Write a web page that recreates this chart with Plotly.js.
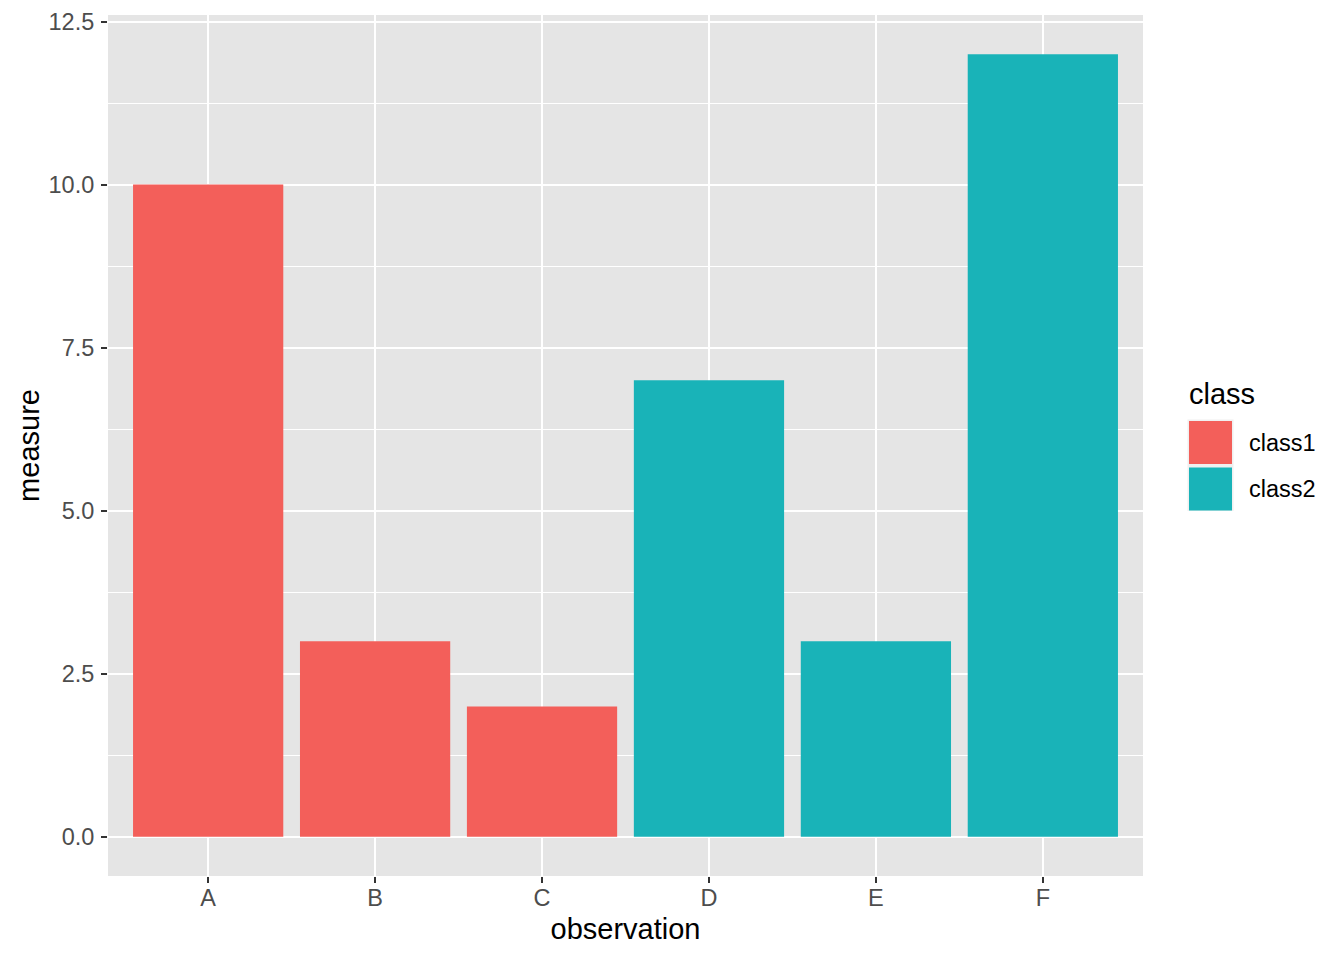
<!DOCTYPE html>
<html>
<head>
<meta charset="utf-8">
<script src="https://cdn.plot.ly/plotly-3.0.1.min.js"></script>
<style>html,body{margin:0;padding:0;background:#fff;}#chart{width:1344px;height:960px;}</style>
</head>
<body>
<div id="chart"></div>
<script>
var observations = ['A', 'B', 'C', 'D', 'E', 'F'];
var measures = [10, 3, 2, 7, 3, 12];
var classes = ['class1', 'class1', 'class1', 'class2', 'class2', 'class2'];
var classNames = ['class1', 'class2'];
var classColors = ['#F35F5A', '#19B3B8'];

var FONT = 'Liberation Sans, Arial, Helvetica, sans-serif';
var W = 1344, H = 960;
var L = 108, R = 1143, T = 15, B = 876;
var pw = R - L, ph = B - T;
function px(x) { return (x - L) / pw; }
function py(y) { return (B - y) / ph; }

var traces = classNames.map(function (cn, k) {
  var xs = [], ys = [];
  for (var i = 0; i < observations.length; i++) {
    if (classes[i] === cn) { xs.push(observations[i]); ys.push(measures[i]); }
  }
  return {
    type: 'bar', name: cn, x: xs, y: ys, width: 0.9,
    marker: { color: classColors[k], line: { width: 0 } },
    showlegend: false, hoverinfo: 'x+y+name'
  };
});

var shapes = [];
var annotations = [];
// legend key background
shapes.push({ type: 'rect', xref: 'paper', yref: 'paper', layer: 'above',
  x0: px(1187.5), x1: px(1233.5), y0: py(511), y1: py(419.5),
  fillcolor: '#F0F0F0', line: { width: 0 } });
classNames.forEach(function (cn, k) {
  var top = 421 + k * 46.5;
  shapes.push({ type: 'rect', xref: 'paper', yref: 'paper', layer: 'above',
    x0: px(1189), x1: px(1232), y0: py(top + 43), y1: py(top),
    fillcolor: classColors[k], line: { width: 0 } });
  annotations.push({ xref: 'paper', yref: 'paper', x: px(1247), y: py(top + 21.5),
    xanchor: 'left', yanchor: 'middle', showarrow: false, text: cn,
    font: { family: FONT, size: 23.5, color: '#000000' } });
});
annotations.push({ xref: 'paper', yref: 'paper', x: px(1187), y: py(394),
  xanchor: 'left', yanchor: 'middle', showarrow: false, text: 'class',
  font: { family: FONT, size: 29, color: '#000000' } });

var layout = {
  width: W, height: H,
  paper_bgcolor: '#FFFFFF', plot_bgcolor: '#E5E5E5',
  margin: { l: L, r: W - R, t: T, b: H - B, pad: 0 },
  barmode: 'overlay',
  showlegend: false,
  font: { family: FONT },
  xaxis: {
    type: 'category', categoryorder: 'array', categoryarray: observations,
    range: [-0.6, 5.6], showgrid: true, gridcolor: '#FFFFFF', gridwidth: 2,
    zeroline: false, showline: false,
    ticks: 'outside', ticklen: 6, tickwidth: 2, tickcolor: '#333333',
    ticklabelstandoff: -5,
    tickfont: { family: FONT, size: 23.5, color: '#4D4D4D' },
    title: { text: 'observation', standoff: 8, font: { family: FONT, size: 29, color: '#000000' } }
  },
  yaxis: {
    range: [-0.6, 12.6], tickmode: 'array',
    tickvals: [0, 2.5, 5, 7.5, 10, 12.5],
    ticktext: ['0.0', '2.5', '5.0', '7.5', '10.0', '12.5'],
    showgrid: true, gridcolor: '#FFFFFF', gridwidth: 2,
    minor: { tickmode: 'array', tickvals: [1.25, 3.75, 6.25, 8.75, 11.25], showgrid: true, gridcolor: '#FFFFFF', gridwidth: 1, ticklen: 0 },
    zeroline: false, showline: false,
    ticks: 'outside', ticklen: 6, tickwidth: 2, tickcolor: '#333333',
    ticklabelstandoff: 2,
    tickfont: { family: FONT, size: 23.5, color: '#4D4D4D' },
    title: { text: 'measure', standoff: 0, font: { family: FONT, size: 29, color: '#000000' } }
  },
  shapes: shapes,
  annotations: annotations
};

Plotly.newPlot('chart', traces, layout, { displayModeBar: false, staticPlot: true });
</script>
</body>
</html>
